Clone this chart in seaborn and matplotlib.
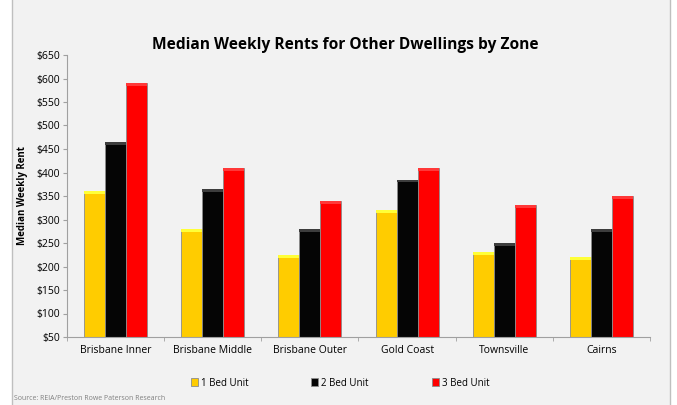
import numpy as np
import pandas as pd
import matplotlib
matplotlib.use("Agg")
import matplotlib.pyplot as plt
import seaborn as sns
from matplotlib.patches import Rectangle

zones = ["Brisbane Inner", "Brisbane Middle", "Brisbane Outer", "Gold Coast", "Townsville", "Cairns"]
bed1 = [360, 280, 225, 320, 230, 220]
bed2 = [465, 365, 280, 385, 250, 280]
bed3 = [590, 410, 340, 410, 330, 350]
series = ["1 Bed Unit", "2 Bed Unit", "3 Bed Unit"]
colors = ["#FFCC00", "#050505", "#FF0000"]

rows = []
for s, vals in zip(series, [bed1, bed2, bed3]):
    for z, v in zip(zones, vals):
        rows.append({"Zone": z, "Unit": s, "Rent": v})
df = pd.DataFrame(rows)

sns.set_style("white")
plt.rcParams["font.family"] = ["Open Sans", "DejaVu Sans"]
plt.rcParams["text.color"] = "black"
plt.rcParams["axes.labelcolor"] = "black"
plt.rcParams["xtick.labelcolor"] = "black"
plt.rcParams["ytick.labelcolor"] = "black"

fig = plt.figure(figsize=(6.77, 4.05), dpi=100)
fig.patch.set_facecolor("white")
fig.patches.append(Rectangle((12 / 677, -0.01), 658 / 677, 1.02, transform=fig.transFigure,
                             facecolor="#F2F2F2", edgecolor="#BFBFBF", linewidth=1, zorder=-5))

ax = fig.add_axes([67 / 677, 1 - 337 / 405, 583 / 677, 282 / 405])
ax.set_facecolor("#F2F2F2")

sns.barplot(data=df, x="Zone", y="Rent", hue="Unit", palette=colors, width=0.65, gap=0,
            saturation=1, edgecolor="#8C8C8C", linewidth=0.6, ax=ax, legend=True)

# lighter top strip on each bar, like the bevel in the original
for p in list(ax.patches):
    if p.get_height() > 0:
        fc = p.get_facecolor()
        light = tuple(min(1, c + 0.22) for c in fc[:3])
        ax.add_patch(Rectangle((p.get_x(), p.get_y() + p.get_height() - 6), p.get_width(), 6,
                               facecolor=light, edgecolor="none", zorder=3))

ax.set_ylim(50, 650)
ax.set_xlim(-0.5, 5.5)
ax.set_yticks(np.arange(50, 651, 50))
ax.set_yticklabels([f"${v}" for v in range(50, 651, 50)], fontsize=7.5)
ax.tick_params(axis="y", length=3, color="#A0A0A0", direction="out", left=True, pad=2)
ax.tick_params(axis="x", length=0, labelsize=7.5, pad=6)
ax.set_xticks(np.arange(-0.5, 6, 1), minor=True)
ax.tick_params(axis="x", which="minor", length=3, color="#A0A0A0", bottom=True)

for side in ["top", "right"]:
    ax.spines[side].set_visible(False)
for side in ["left", "bottom"]:
    ax.spines[side].set_color("#A0A0A0")
    ax.spines[side].set_linewidth(0.8)

ax.set_xlabel("")
ax.set_ylabel("Median Weekly Rent", fontsize=7, fontweight="bold", labelpad=6)
fig.text(345 / 677, 1 - 45 / 405, "Median Weekly Rents for Other Dwellings by Zone",
         ha="center", va="center", fontsize=11.2, fontweight="bold")

handles, labels = ax.get_legend_handles_labels()
ax.legend(handles, labels, loc="center", bbox_to_anchor=(340 / 677, 1 - 383 / 405),
          bbox_transform=fig.transFigure, ncol=3, frameon=False, fontsize=7,
          handlelength=0.7, handleheight=0.9, handletextpad=0.3, columnspacing=6.5)

fig.text(14 / 677, 1 - 398 / 405, "Source: REIA/Preston Rowe Paterson Research",
         ha="left", va="center", fontsize=5, color="#808080")

fig.savefig("out.png", dpi=100)
